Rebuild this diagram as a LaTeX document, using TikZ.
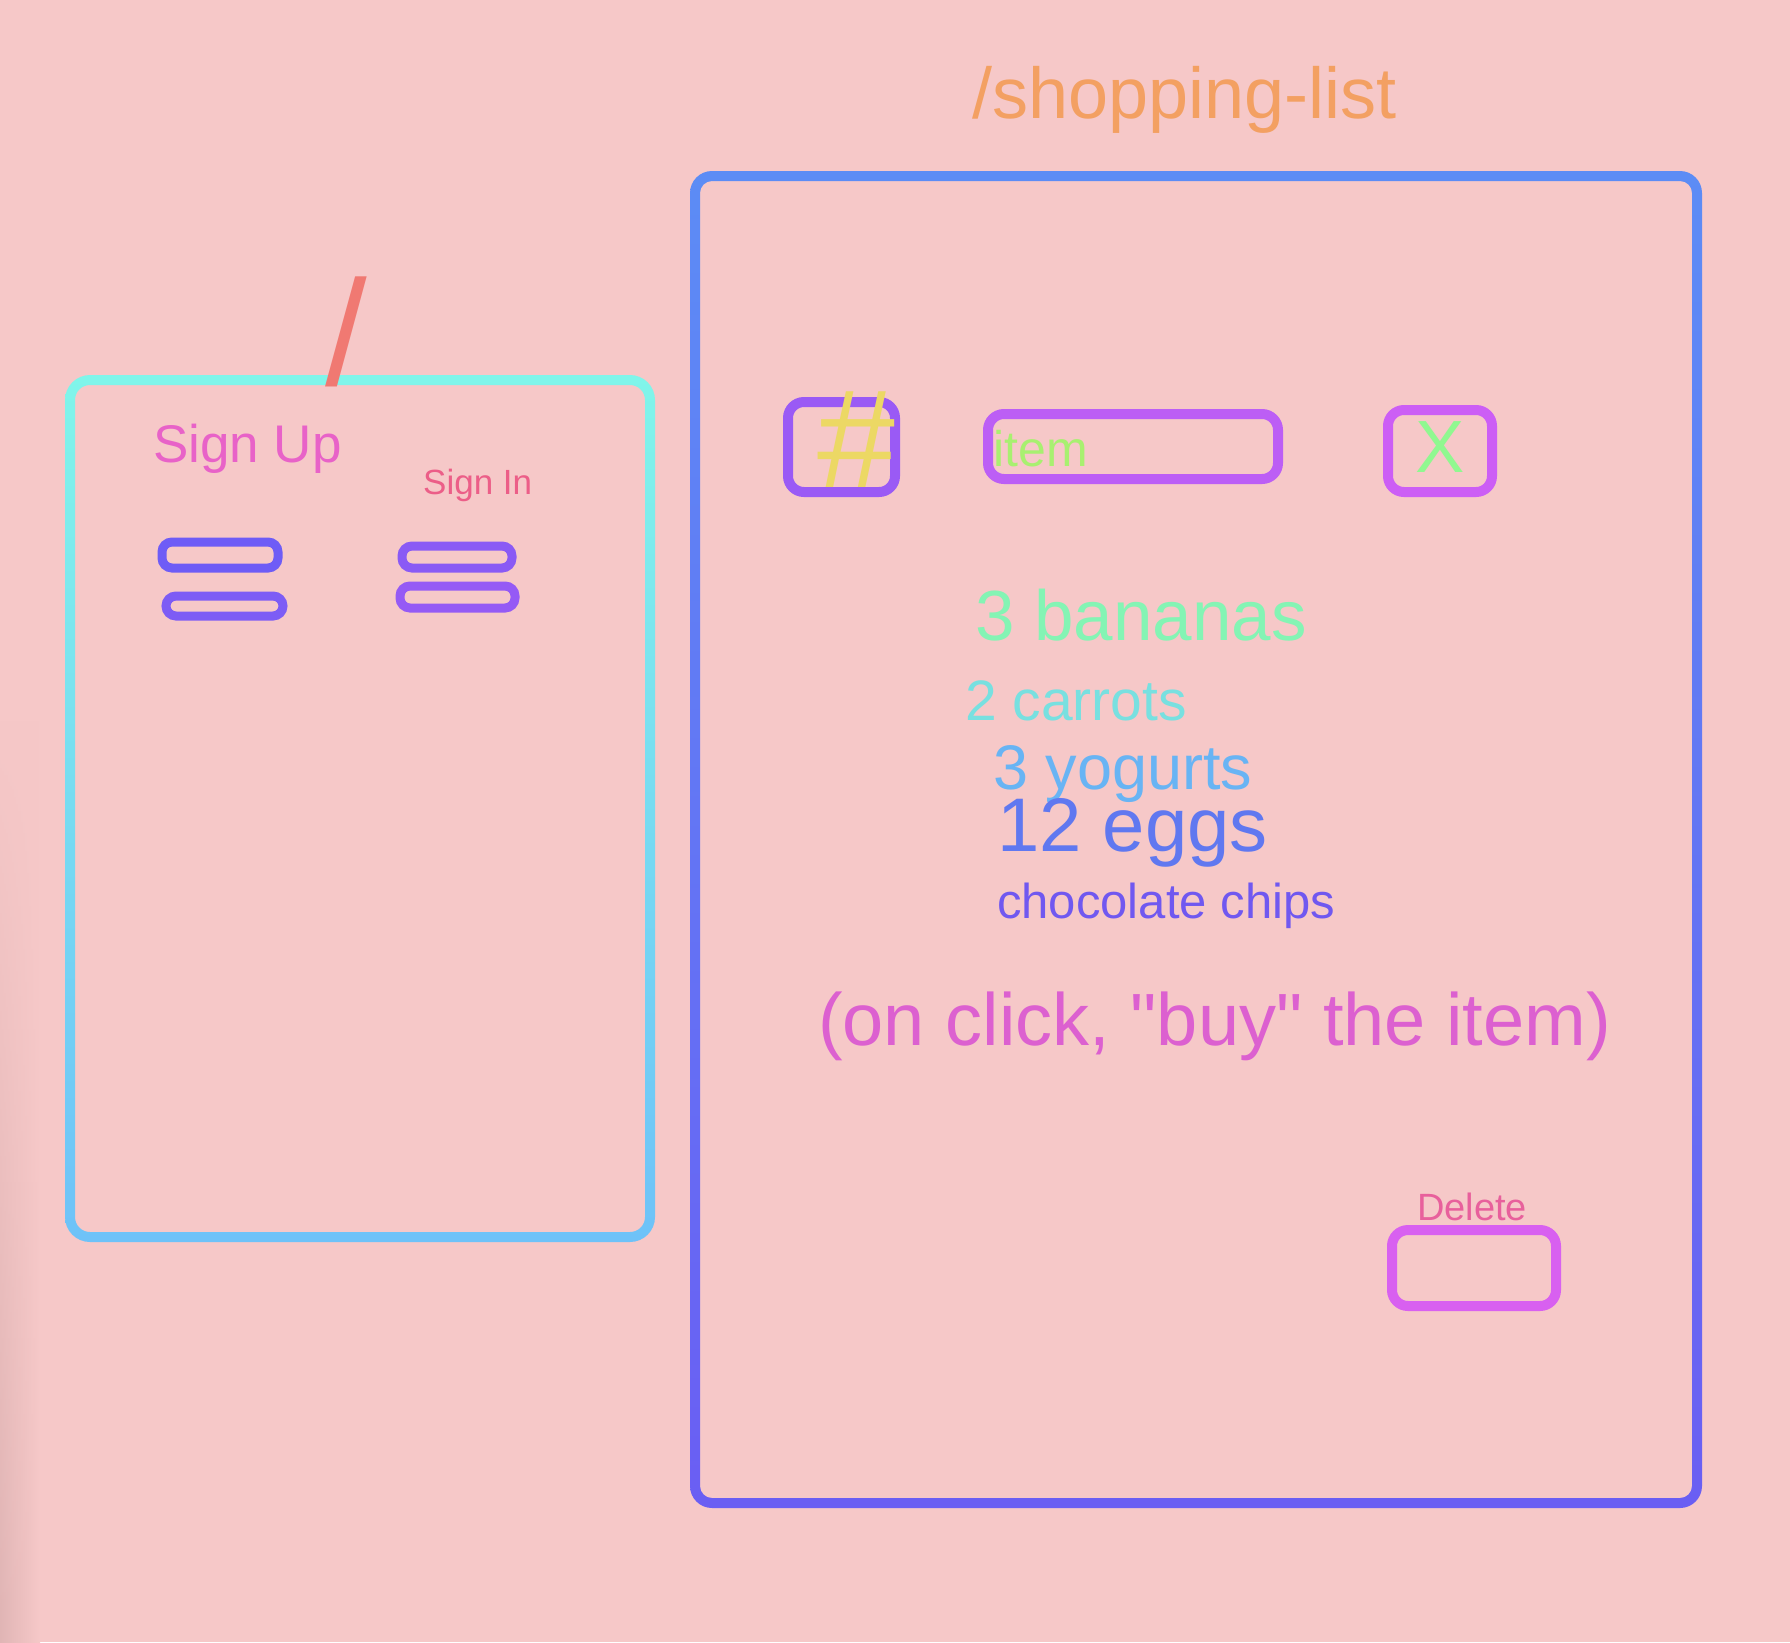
\documentclass[tikz,border=0pt]{standalone}
\usepackage{fontspec}
\setmainfont{Liberation Sans}[Ligatures=TeXOff]
\usetikzlibrary{fadings}

\definecolor{bgpink}{HTML}{F6C8C8}
\definecolor{edgeshade}{HTML}{E0B5B5}
\definecolor{routeorange}{HTML}{F3A062}
\definecolor{slashtop}{HTML}{F39060}
\definecolor{signup}{HTML}{E862C8}
\definecolor{signin}{HTML}{EC5E88}
\definecolor{cyantop}{HTML}{80F5EA}
\definecolor{cyanbot}{HTML}{6EC2F8}
\definecolor{bluetop}{HTML}{5C8CF5}
\definecolor{bluebot}{HTML}{6A5EF3}
\definecolor{fielda}{HTML}{6E5CF6}
\definecolor{fieldb}{HTML}{7D5CF5}
\definecolor{fieldc}{HTML}{8A5AF5}
\definecolor{fieldd}{HTML}{955AF5}
\definecolor{hashbox}{HTML}{9A5AF5}
\definecolor{itembox}{HTML}{BC5EF5}
\definecolor{xbox}{HTML}{CC5EF5}
\definecolor{hashtxt}{HTML}{ECD864}
\definecolor{itemtxt}{HTML}{A8F070}
\definecolor{xtxt}{HTML}{90F890}
\definecolor{bananas}{HTML}{84F4B4}
\definecolor{carrots}{HTML}{78E0E0}
\definecolor{yogurts}{HTML}{68B4F4}
\definecolor{eggs}{HTML}{6078F0}
\definecolor{chips}{HTML}{7058F0}
\definecolor{onclick}{HTML}{DC60D0}
\definecolor{deletetxt}{HTML}{E8609C}
\definecolor{deletebox}{HTML}{D860F0}

\newcommand{\fsz}[1]{\fontsize{#1}{#1}\selectfont}

\begin{document}
\begin{tikzpicture}[x=1pt,y=-1pt,
    lbl/.style={inner sep=0pt, anchor=base west},
    field/.style={line width=9pt, rounded corners=10pt},
    btn/.style={line width=10pt, rounded corners=16pt}]
	% Background
	\fill[bgpink] (0,0) rectangle (1790,1642);
	\useasboundingbox (0,0) rectangle (1790,1642);
	\shade[left color=edgeshade, right color=bgpink, path fading=north] (0,720) rectangle (40,1642);
	
	% Page "/"
	\shade[top color=cyantop, bottom color=cyanbot, even odd rule, rounded corners=25pt]
		(65,375) rectangle (655,1242) [rounded corners=15pt] (75,385) rectangle (645,1232);
	\node[inner sep=0pt, anchor=base, text=slashtop!55!signin] (rootslash) at (346,385) {\fsz{150}/};
	
	\node[lbl, text=signup] (signup) at (153,462) {\fsz{53}Sign Up};
	\node[lbl, text=signin] (signin) at (423,494) {\fsz{35}Sign In};
	
	\draw[field, fielda] (162,542) rectangle (278,568); % sign up fields
	\draw[field, fieldb] (166,596) rectangle (283,616);
	\draw[field, fieldc] (402,546) rectangle (512,568); % sign in fields
	\draw[field, fieldd] (400,586) rectangle (515,608);
	
	% Page "/shopping-list"
	\node[lbl, text=routeorange] (route) at (972,118) {\fsz{72}/shopping-list};
	\shade[top color=bluetop, bottom color=bluebot, even odd rule, rounded corners=22pt]
		(690,171) rectangle (1702,1508) [rounded corners=12pt] (700,181) rectangle (1692,1498);
	
	% Input row
	\draw[btn, hashbox] (788,402) rectangle (895,492);
	\draw[btn, itembox] (988,414) rectangle (1278,479);
	\draw[btn, xbox] (1388,410) rectangle (1492,492);
	\node[lbl, text=hashtxt] (hash) at (817,487) {\fsz{140}\#};
	\node[lbl, text=itemtxt] (item) at (993,466) {\fsz{50}item};
	\node[inner sep=0pt, anchor=base, text=xtxt] (xmark) at (1440,472) {\fsz{74}X};
	
	% List
	\node[lbl, text=bananas] (bananas) at (975,640) {\fsz{71}3 bananas};
	\node[lbl, text=carrots] (carrots) at (965,720) {\fsz{57}2 carrots};
	\node[lbl, text=yogurts] (yogurts) at (993,789) {\fsz{63}3 yogurts};
	\node[lbl, text=eggs] (eggs) at (997,851) {\fsz{76}12 eggs};
	\node[lbl, text=chips] (chips) at (997,918) {\fsz{49}chocolate chips};
	
	\node[lbl, text=onclick] (onclick) at (818,1045) {\fsz{74}(on click, "buy" the item)};
	
	% Delete button
	\node[lbl, text=deletetxt] (deletelbl) at (1417,1220) {\fsz{38}Delete};
	\draw[btn, deletebox] (1392,1230) rectangle (1556,1306);
\end{tikzpicture}
\end{document}
